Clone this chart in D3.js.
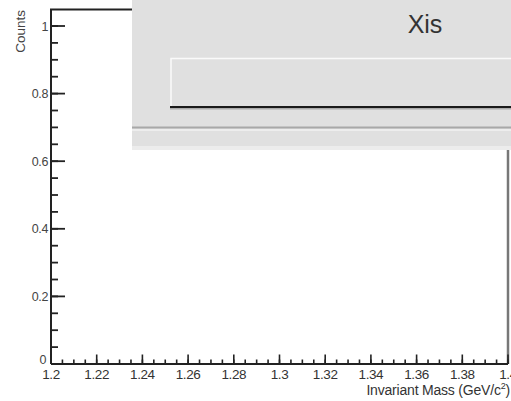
<!DOCTYPE html>
<html><head><meta charset="utf-8">
<script src="https://cdn.jsdelivr.net/npm/d3@7"></script>
<style>
html,body{margin:0;padding:0;background:#fff;}
svg{display:block;}
text{font-family:"Liberation Sans",Arial,sans-serif;}
</style></head>
<body>
<svg id="c" width="511" height="401"></svg>
<script>
// ---- data ----
const title = "Xis";
const xLabel = "Invariant Mass (GeV/c";
const yLabel = "Counts";
const xDomain = [1.2, 1.4];
const yDomain = [0, 1];
const xTickValues = [1.2, 1.22, 1.24, 1.26, 1.28, 1.3, 1.32, 1.34, 1.36, 1.38, 1.4];
const xTickLabels = ["1.2", "1.22", "1.24", "1.26", "1.28", "1.3", "1.32", "1.34", "1.36", "1.38", "1.4"];
const yTickValues = [0, 0.2, 0.4, 0.6, 0.8, 1];
const yTickLabels = ["0", "0.2", "0.4", "0.6", "0.8", "1"];
const binEdges = [];   // histogram is empty in the reference
const counts = [];

// ---- layout ----
const svg = d3.select("#c");
const L = 51, R = 508, T = 9.5, B = 364;
const x = d3.scaleLinear().domain(xDomain).range([L, R]);
const y = d3.scaleLinear().domain(yDomain).range([B, 26]);

// frame
svg.append("path").attr("d", `M${L},${B}V${T}H${R}V${B}`)
  .attr("fill", "none").attr("stroke", "#222").attr("stroke-width", 2);
svg.append("line").attr("x1", R).attr("x2", R).attr("y1", T).attr("y2", B)
  .attr("stroke", "#777").attr("stroke-width", 2.5);

// histogram (empty)
const hist = counts.map((c, i) => ({x0: binEdges[i], x1: binEdges[i + 1], c}));
svg.append("g").selectAll("rect").data(hist).join("rect")
  .attr("x", d => x(d.x0)).attr("width", d => x(d.x1) - x(d.x0))
  .attr("y", d => y(d.c)).attr("height", d => B - y(d.c))
  .attr("fill", "none").attr("stroke", "#000");

// x axis
const xMinor = d3.range(0, 41).map(i => xDomain[0] + i * 0.005);
const gx = svg.append("g").attr("transform", `translate(0,${B})`);
gx.append("line").attr("x1", L).attr("x2", R).attr("stroke", "#222").attr("stroke-width", 2);
gx.selectAll(".mn").data(xMinor).join("line")
  .attr("x1", d => x(d)).attr("x2", d => x(d)).attr("y1", 0).attr("y2", -4.5)
  .attr("stroke", "#222").attr("stroke-width", 1.6);
gx.selectAll(".mj").data(xTickValues).join("line")
  .attr("x1", d => x(d)).attr("x2", d => x(d)).attr("y1", 0).attr("y2", -9.5)
  .attr("stroke", "#222").attr("stroke-width", 1.6);
gx.selectAll("text").data(xTickValues).join("text")
  .attr("x", d => x(d)).attr("y", 15).attr("text-anchor", "middle")
  .attr("font-size", 13.5).attr("fill", "#333").attr("letter-spacing", -0.4)
  .text((d, i) => xTickLabels[i]);

// y axis
const yMinor = d3.range(0, 21).map(i => i * 0.05);
const gy = svg.append("g").attr("transform", `translate(${L},0)`);
gy.selectAll(".mn").data(yMinor).join("line")
  .attr("y1", d => y(d)).attr("y2", d => y(d)).attr("x1", 0).attr("x2", 7)
  .attr("stroke", "#222").attr("stroke-width", 1.8);
gy.selectAll(".mj").data(yTickValues).join("line")
  .attr("y1", d => y(d)).attr("y2", d => y(d)).attr("x1", 0).attr("x2", 14)
  .attr("stroke", "#222").attr("stroke-width", 1.8);
gy.selectAll("text").data(yTickValues).join("text")
  .attr("x", d => d === 0 ? -5 : -3).attr("y", d => y(d) + (d === 0 ? 0 : 4.5))
  .attr("text-anchor", "end").attr("font-size", 12.5).attr("fill", "#444")
  .attr("letter-spacing", -0.4)
  .text((d, i) => yTickLabels[i]);

// axis titles
const xt = svg.append("text").attr("x", 510).attr("y", 395).attr("text-anchor", "end")
  .attr("font-size", 14).attr("fill", "#333").attr("letter-spacing", -0.2);
xt.append("tspan").text(xLabel);
xt.append("tspan").attr("font-size", 9).attr("dy", -6).text("2");
xt.append("tspan").attr("dy", 6).text(")");
svg.append("text").attr("transform", "translate(25,10) rotate(-90)")
  .attr("text-anchor", "end").attr("font-size", 13.5).attr("fill", "#444").text(yLabel);

// overlapping grey panel (title window)
const P = svg.append("g");
P.append("rect").attr("x", 132).attr("y", 0).attr("width", 379).attr("height", 150).attr("fill", "#e0e0e0");
P.append("line").attr("x1", 132).attr("x2", 511).attr("y1", 127.5).attr("y2", 127.5).attr("stroke", "#a8a8a8").attr("stroke-width", 2);
P.append("line").attr("x1", 132).attr("x2", 511).attr("y1", 130).attr("y2", 130).attr("stroke", "#f2f2f2").attr("stroke-width", 1.5);
P.append("rect").attr("x", 132).attr("y", 146).attr("width", 379).attr("height", 4).attr("fill", "#ececec");
// inner box
P.append("path").attr("d", "M171,107V58.5H511").attr("fill", "none").attr("stroke", "#fafafa").attr("stroke-width", 1.5);
P.append("line").attr("x1", 170).attr("x2", 511).attr("y1", 108.5).attr("y2", 108.5).attr("stroke", "#aaa").attr("stroke-width", 2);
P.append("line").attr("x1", 170).attr("x2", 511).attr("y1", 107).attr("y2", 107).attr("stroke", "#1a1a1a").attr("stroke-width", 2);
P.append("text").attr("x", 425).attr("y", 33).attr("text-anchor", "middle")
  .attr("font-size", 25).attr("fill", "#333").text(title);
</script>
</body></html>
